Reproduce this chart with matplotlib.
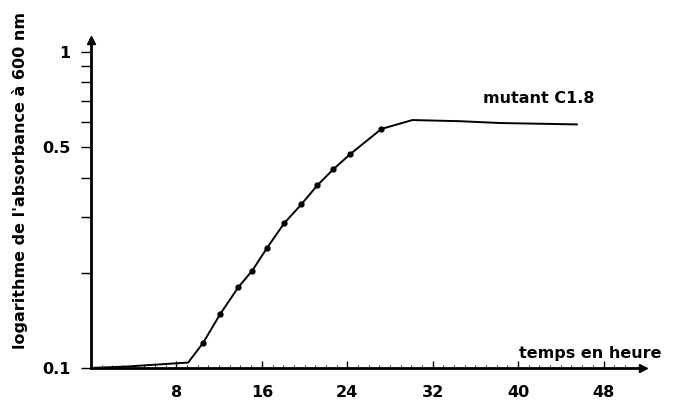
import numpy as np
import matplotlib.pyplot as plt
from matplotlib.ticker import FixedLocator, NullFormatter

# Growth curve of mutant C1.8
hours = [0, 3.3, 9.1, 10.5, 12.1, 13.8, 15.1, 16.5, 18.1, 19.7, 21.2, 22.7,
         24.3, 27.2, 30.1, 34.5, 38.3, 45.5]
absorbance = [0.100, 0.101, 0.104, 0.120, 0.148, 0.180, 0.203, 0.240, 0.287,
              0.329, 0.378, 0.425, 0.475, 0.570, 0.608, 0.603, 0.595, 0.589]
# points drawn with a dot on the curve
dot_hours = hours[3:14]
dot_abs = absorbance[3:14]

x_ticks = [8, 16, 24, 32, 40, 48]
y_labeled = [0.1, 0.5, 1]
y_minor = [0.2, 0.3, 0.4, 0.6, 0.7, 0.8, 0.9]

fig = plt.figure(figsize=(6.79, 4.07), dpi=100)
ax = fig.add_axes([0.134, 0.096, 0.813, 0.806])

ax.plot(hours, absorbance, color="black", lw=1.4)
ax.plot(dot_hours, dot_abs, "o", color="black", ms=3.5)

ax.set_yscale("log")
ax.set_xlim(0, 51.7)
ax.set_ylim(0.1, 1.09)

for s in ["top", "right"]:
    ax.spines[s].set_visible(False)
for s in ["left", "bottom"]:
    ax.spines[s].set_linewidth(2)

# arrow heads at the end of both axes
ax.plot(1, 0, ">", color="black", ms=6, transform=ax.transAxes, clip_on=False)
ax.plot(0, 1, "^", color="black", ms=6, transform=ax.transAxes, clip_on=False)

# x axis: tall ticks every 8 h, small ticks every hour
ax.xaxis.set_major_locator(FixedLocator(x_ticks))
ax.xaxis.set_minor_locator(FixedLocator(np.arange(1, 51)))
ax.set_xticklabels([str(t) for t in x_ticks])
ax.tick_params(axis="x", which="major", direction="in", length=5, width=1,
               pad=12, labelsize=11.5)
ax.tick_params(axis="x", which="minor", direction="in", length=2, width=0.6)

# y axis: log ticks, only 0.1, 0.5, 1 labeled
ax.yaxis.set_major_locator(FixedLocator(y_labeled))
ax.yaxis.set_minor_locator(FixedLocator(y_minor))
ax.set_yticklabels(["0.1", "0.5", "1"])
ax.yaxis.set_minor_formatter(NullFormatter())
ax.tick_params(axis="y", which="both", direction="out", length=7, width=1,
               pad=8, labelsize=11.5)

for lbl in ax.get_xticklabels() + ax.get_yticklabels():
    lbl.set_fontweight("bold")

ax.set_ylabel("logarithme de l'absorbance à 600 nm", fontsize=11.5,
              fontweight="bold")
ax.yaxis.set_label_coords(-0.115, 0.57)

ax.text(1.034, 0.022, "temps en heure", transform=ax.transAxes, ha="right",
        va="bottom", fontsize=11.5, fontweight="bold")
ax.text(0.71, 0.82, "mutant C1.8", transform=ax.transAxes, ha="left",
        va="center", fontsize=11.5, fontweight="bold")

fig.savefig("out.png", dpi=100)
